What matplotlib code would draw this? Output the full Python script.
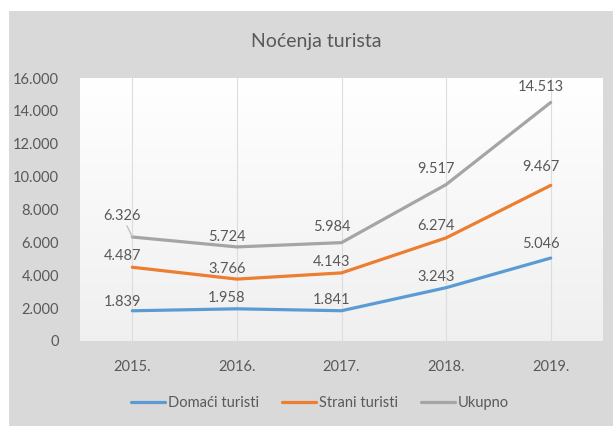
import numpy as np
import matplotlib
matplotlib.use("Agg")
import matplotlib.pyplot as plt
from matplotlib import font_manager
from matplotlib.patches import Rectangle

# ---- data ----
years = ["2015.", "2016.", "2017.", "2018.", "2019."]
domaci = [1839, 1958, 1841, 3243, 5046]
strani = [4487, 3766, 4143, 6274, 9467]
ukupno = [6326, 5724, 5984, 9517, 14513]
series_names = ["Domaći turisti", "Strani turisti", "Ukupno"]
y_ticks = [0, 2000, 4000, 6000, 8000, 10000, 12000, 14000, 16000]
title = "Noćenja turista"

# ---- style ----
colors = ["#5B9BD5", "#ED7D31", "#A5A5A5"]
text_col = "#595959"
avail = {f.name for f in font_manager.fontManager.ttflist}
fam = None
for cand in ["Liberation Sans Narrow", "Lato", "Open Sans", "DejaVu Sans"]:
    if cand in avail:
        fam = cand
        break
plt.rcParams["font.family"] = [fam, "DejaVu Sans"]

# label offsets in pixels (dy) per series/point
label_dy = [
    [9, 11, 11, 11, 14],
    [11, 10, 11, 12, 18],
    [21, 10, 16, 16, 15],
]
label_dx = -10


def fmt(v):
    return f"{v:,}".replace(",", ".")


fig = plt.figure(figsize=(6.13, 4.26), dpi=100)
fig.patch.set_facecolor("white")
fig.add_artist(Rectangle((9 / 613, 0), 1 - 9 / 613, 1 - 11 / 426,
                         transform=fig.transFigure, facecolor="#D9D9D9",
                         edgecolor="none", zorder=0))

ax = fig.add_axes([80 / 613, 1 - 341 / 426, (603 - 80) / 613, (341 - 78) / 426])
ax.set_facecolor("white")
grad = np.linspace(1.0, 0.94, 256).reshape(-1, 1)
ax.imshow(np.dstack([grad, grad, grad]), extent=[0, 1, 0, 1],
          transform=ax.transAxes, aspect="auto", zorder=0)

x = np.arange(len(years))
for xi in x:
    ax.axvline(xi, color="#DDDDDD", lw=0.8, zorder=1)

all_series = [domaci, strani, ukupno]
for s, (vals, name, c) in enumerate(zip(all_series, series_names, colors)):
    ax.plot(x, vals, color=c, lw=2.3, label=name, solid_joinstyle="round",
            solid_capstyle="round", zorder=3)
    for i, v in enumerate(vals):
        dy = label_dy[s][i]
        kw = dict(xy=(x[i], v), xytext=(label_dx, dy),
                  textcoords="offset pixels", ha="center", va="center",
                  fontsize=10.5, color=text_col, zorder=4)
        if dy > 18:
            kw["arrowprops"] = dict(arrowstyle="-", color="#BFBFBF", lw=0.9,
                                    shrinkA=0, shrinkB=0)
        ax.annotate(fmt(v), **kw)

ax.set_xlim(-0.5, len(years) - 0.5)
ax.set_ylim(0, 16000)
ax.set_yticks(y_ticks)
ax.set_yticklabels([fmt(t) for t in y_ticks])
ax.set_xticks(x)
ax.set_xticklabels(years)
ax.tick_params(axis="both", length=0, labelsize=10.5, labelcolor=text_col)
ax.tick_params(axis="y", pad=15)
ax.tick_params(axis="x", pad=14)
for sp in ax.spines.values():
    sp.set_visible(False)

fig.text(316 / 613, 1 - 42 / 426, title, ha="center", va="center",
         fontsize=14, color=text_col)

leg = fig.legend(loc="center", bbox_to_anchor=(320 / 613, 1 - 403 / 426),
                 ncol=3, frameon=False, fontsize=10.5, handlelength=2.3,
                 handletextpad=0.2, columnspacing=1.6)
for t in leg.get_texts():
    t.set_color(text_col)

fig.savefig("out.png", dpi=100, facecolor=fig.get_facecolor())
